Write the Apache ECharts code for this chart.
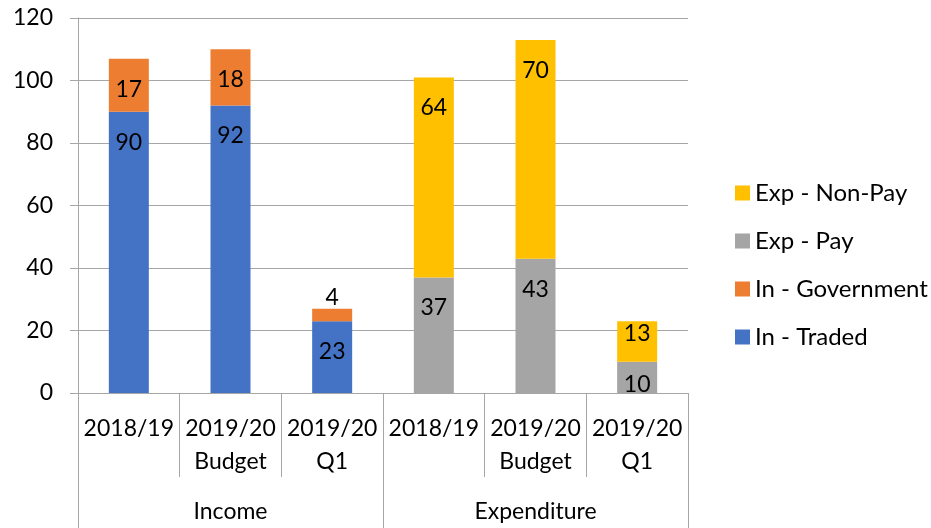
<!DOCTYPE html>
<html>
<head>
<meta charset="utf-8">
<script src="https://cdn.jsdelivr.net/npm/echarts@6/dist/echarts.min.js"></script>
<style>
  html, body { margin: 0; padding: 0; background: #fff; }
  #chart { width: 931px; height: 528px; }
</style>
</head>
<body>
<div id="chart"></div>
<script>
const categories = ['2018/19', '2019/20\nBudget', '2019/20\nQ1', '2018/19', '2019/20\nBudget', '2019/20\nQ1'];
const groups = ['Income', 'Expenditure'];
const inTraded = [90, 92, 23, '-', '-', '-'];
const inGovernment = [17, 18, 4, '-', '-', '-'];
const expPay = ['-', '-', '-', 37, 43, 10];
const expNonPay = ['-', '-', '-', 64, 70, 13];
const yTicks = [0, 20, 40, 60, 80, 100, 120];

const font = 'Lato';
const axisGray = '#a6a6a6';

// small values need their label nudged, like the original
const labelTweak = {
  inGov2: { position: 'top', distance: 0 },
  nonPay5: { distance: 1 },
  pay5: { distance: 11 },
};

const mkData = (arr, key) => arr.map((v, i) => {
  const t = labelTweak[key + i];
  return t ? { value: v, label: t } : v;
});

const seg = (name, arr, key, color) => ({
  name,
  type: 'bar',
  stack: 'total',
  barWidth: 40,
  data: mkData(arr, key),
  itemStyle: { color },
  label: {
    show: true,
    position: 'insideTop',
    distance: 19,
    color: '#000',
    fontFamily: font,
    fontSize: 23,
  },
});

const chart = echarts.init(document.getElementById('chart'));
chart.setOption({
  animation: false,
  textStyle: { fontFamily: font },
  legend: {
    orient: 'vertical',
    left: 730,
    top: 176,
    itemWidth: 15,
    itemHeight: 15,
    itemGap: 24,
    icon: 'rect',
    data: ['Exp - Non-Pay', 'Exp - Pay', 'In - Government', 'In - Traded'],
    textStyle: { fontFamily: font, fontSize: 24, color: '#000' },
  },
  grid: { left: 78, right: 243, top: 18, bottom: 135 },
  xAxis: [
    {
      type: 'category',
      data: categories,
      axisLine: { lineStyle: { color: axisGray } },
      axisTick: { show: true, length: 84, interval: 0, lineStyle: { color: axisGray } },
      axisLabel: {
        interval: 0,
        margin: 19,
        color: '#000',
        fontFamily: font,
        fontSize: 23,
        lineHeight: 33,
      },
    },
    {
      type: 'category',
      data: groups,
      position: 'bottom',
      axisLine: { show: false },
      axisTick: { show: true, length: 140, interval: 0, lineStyle: { color: axisGray } },
      axisLabel: {
        margin: 107,
        color: '#000',
        fontFamily: font,
        fontSize: 23,
      },
    },
  ],
  yAxis: {
    type: 'value',
    min: yTicks[0],
    max: yTicks[yTicks.length - 1],
    interval: 20,
    axisLine: { show: true, lineStyle: { color: axisGray } },
    axisTick: { show: true, length: 8, lineStyle: { color: axisGray } },
    splitLine: { lineStyle: { color: axisGray } },
    axisLabel: { margin: 25, color: '#000', fontFamily: font, fontSize: 23 },
  },
  series: [
    seg('In - Traded', inTraded, 'inTraded', '#4472C4'),
    seg('In - Government', inGovernment, 'inGov', '#ED7D31'),
    seg('Exp - Pay', expPay, 'pay', '#A5A5A5'),
    seg('Exp - Non-Pay', expNonPay, 'nonPay', '#FFC000'),
  ],
});
</script>
</body>
</html>
